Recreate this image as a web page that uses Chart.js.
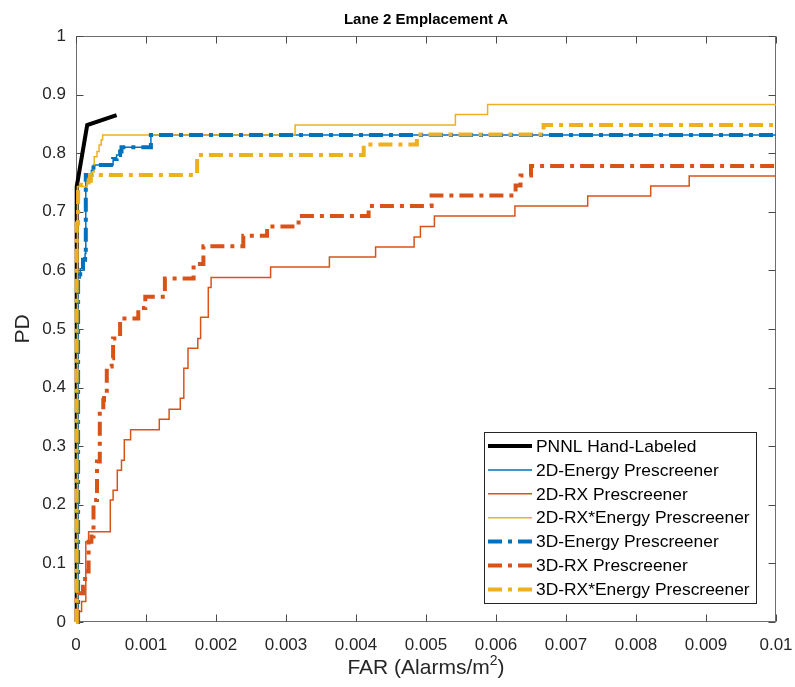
<!DOCTYPE html>
<html>
<head>
<meta charset="utf-8">
<script src="https://cdn.jsdelivr.net/npm/chart.js@4.4.1/dist/chart.umd.min.js"></script>
<style>
  html, body { margin: 0; padding: 0; background: #ffffff; }
  #wrap { width: 795px; height: 687px; }
</style>
</head>
<body>
<div id="wrap"><canvas id="roc" width="795" height="687"></canvas></div>
<script>
// ROC curves for lane 2, emplacement A: probability of detection vs. false alarm rate.
const seriesNames = [
  'PNNL Hand-Labeled',
  '2D-Energy Prescreener',
  '2D-RX Prescreener',
  '2D-RX*Energy Prescreener',
  '3D-Energy Prescreener',
  '3D-RX Prescreener',
  '3D-RX*Energy Prescreener'
];

// PNNL hand-labeled reference (straight segments)
const pnnlFar = [0, 0.00001, 0.00016, 0.00058];
const pnnlPd  = [0, 0.743, 0.848, 0.865];

// 2D energy prescreener
const energy2dFar = [0, 0.00003, 0.00006, 0.0001, 0.00013, 0.00014, 0.00022, 0.00025, 0.00053, 0.00058, 0.00063, 0.00065, 0.00107, 0.01];
const energy2dPd  = [0, 0.587, 0.603, 0.618, 0.629, 0.763, 0.771, 0.780, 0.790, 0.797, 0.803, 0.810, 0.831, 0.831];

// 2D RX prescreener
const rx2dFar = [0, 0.00001, 0.00008, 0.00014, 0.00018, 0.00049, 0.00053, 0.00059, 0.00065, 0.00069, 0.00078, 0.00119, 0.00133, 0.00149, 0.00154, 0.0016, 0.00174, 0.00178, 0.00189, 0.00193, 0.00278, 0.00362, 0.00428, 0.00483, 0.00492, 0.00512, 0.00627, 0.00731, 0.00821, 0.00876, 0.01];
const rx2dPd  = [0, 0.018, 0.035, 0.137, 0.154, 0.208, 0.225, 0.259, 0.276, 0.311, 0.328, 0.346, 0.363, 0.382, 0.433, 0.467, 0.484, 0.520, 0.571, 0.588, 0.606, 0.623, 0.640, 0.657, 0.675, 0.693, 0.710, 0.727, 0.744, 0.761, 0.761];

// 2D RX*Energy prescreener
const rxe2dFar = [0, 0.00002, 0.00016, 0.00023, 0.00026, 0.0003, 0.00033, 0.00036, 0.00038, 0.00313, 0.00542, 0.00588, 0.01];
const rxe2dPd  = [0, 0.743, 0.751, 0.768, 0.794, 0.803, 0.814, 0.823, 0.831, 0.848, 0.866, 0.883, 0.883];

// 3D energy prescreener
const energy3dFar = [0, 0.00003, 0.00006, 0.0001, 0.00013, 0.00014, 0.00022, 0.00025, 0.00053, 0.00058, 0.00063, 0.00065, 0.00107, 0.01];
const energy3dPd  = [0, 0.587, 0.603, 0.618, 0.629, 0.763, 0.771, 0.780, 0.790, 0.797, 0.803, 0.810, 0.831, 0.831];

// 3D RX prescreener
const rx3dFar = [0, 0.00001, 0.00003, 0.0001, 0.00013, 0.00018, 0.00022, 0.00025, 0.0003, 0.00034, 0.00039, 0.0004, 0.00044, 0.00051, 0.00053, 0.0006, 0.00063, 0.00089, 0.00099, 0.00127, 0.00168, 0.00182, 0.00239, 0.00273, 0.00318, 0.00418, 0.00508, 0.00628, 0.00635, 0.0065, 0.01];
const rx3dPd  = [0, 0.038, 0.049, 0.060, 0.086, 0.137, 0.146, 0.208, 0.274, 0.362, 0.379, 0.390, 0.436, 0.450, 0.484, 0.487, 0.518, 0.536, 0.555, 0.586, 0.611, 0.641, 0.659, 0.675, 0.693, 0.710, 0.728, 0.745, 0.762, 0.778, 0.778];

// 3D RX*Energy prescreener
const rxe3dFar = [0, 0.00001, 0.00003, 0.00018, 0.0002, 0.00173, 0.00411, 0.00487, 0.00668, 0.01];
const rxe3dPd  = [0, 0.680, 0.746, 0.754, 0.763, 0.797, 0.815, 0.832, 0.848, 0.848];

const xTicks = [0, 0.001, 0.002, 0.003, 0.004, 0.005, 0.006, 0.007, 0.008, 0.009, 0.01];
const xTickLabels = ['0', '0.001', '0.002', '0.003', '0.004', '0.005', '0.006', '0.007', '0.008', '0.009', '0.01'];
const yTicks = [0, 0.1, 0.2, 0.3, 0.4, 0.5, 0.6, 0.7, 0.8, 0.9, 1];
const yTickLabels = ['0', '0.1', '0.2', '0.3', '0.4', '0.5', '0.6', '0.7', '0.8', '0.9', '1'];

const FONT = '"Liberation Sans", Arial, Helvetica, sans-serif';
const INK = '#262626';
const BLUE = '#0072BD', ORANGE = '#D95319', YELLOW = '#EDB120';
const DASHDOT = [14, 6, 4, 6];

function pts(xs, ys) { return xs.map((x, i) => ({ x: x, y: ys[i] })); }

const styles = [
  { color: '#000000', width: 4, dash: [], stepped: false },
  { color: BLUE, width: 1.5, dash: [], stepped: true },
  { color: ORANGE, width: 1.5, dash: [], stepped: true },
  { color: YELLOW, width: 1.5, dash: [], stepped: true },
  { color: BLUE, width: 4, dash: DASHDOT, stepped: true },
  { color: ORANGE, width: 4, dash: DASHDOT, stepped: true },
  { color: YELLOW, width: 4, dash: DASHDOT, stepped: true }
];
const seriesData = [
  pts(pnnlFar, pnnlPd),
  pts(energy2dFar, energy2dPd),
  pts(rx2dFar, rx2dPd),
  pts(rxe2dFar, rxe2dPd),
  pts(energy3dFar, energy3dPd),
  pts(rx3dFar, rx3dPd),
  pts(rxe3dFar, rxe3dPd)
];

const datasets = seriesNames.map((name, i) => ({
  label: name,
  data: seriesData[i],
  borderColor: styles[i].color,
  backgroundColor: styles[i].color,
  borderWidth: styles[i].width,
  borderDash: styles[i].dash,
  borderCapStyle: 'butt',
  borderJoinStyle: 'miter',
  stepped: styles[i].stepped ? 'before' : false,
  tension: 0,
  pointRadius: 0,
  pointHoverRadius: 0,
  fill: false,
  clip: false,
  order: seriesNames.length - i   // later series paint on top
}));

// Axes box with inward tick marks on all four sides (drawn beneath the curves)
const axesBox = {
  id: 'axesBox',
  beforeDatasetsDraw(chart) {
    const { ctx, chartArea: a, scales } = chart;
    const L = Math.round(a.left) + 0.5, R = Math.round(a.right) - 0.5;
    const T = Math.round(a.top) + 0.5, B = Math.round(a.bottom) - 0.5;
    ctx.save();
    ctx.lineWidth = 1;
    ctx.strokeStyle = '#6e6e6e';
    ctx.strokeRect(L, T, R - L, B - T);
    ctx.strokeStyle = '#4a4a4a';
    ctx.beginPath();
    const tl = 7;
    xTicks.forEach(v => {
      const px = Math.round(scales.x.getPixelForValue(v)) + 0.5;
      ctx.moveTo(px, B); ctx.lineTo(px, B - tl);
      ctx.moveTo(px, T); ctx.lineTo(px, T + tl);
    });
    yTicks.forEach(v => {
      const py = Math.round(scales.y.getPixelForValue(v)) + 0.5;
      ctx.moveTo(L, py); ctx.lineTo(L + tl, py);
      ctx.moveTo(R, py); ctx.lineTo(R - tl, py);
    });
    ctx.stroke();
    ctx.restore();
  }
};

// Title, axis labels and the boxed legend
const annotations = {
  id: 'annotations',
  afterDraw(chart) {
    const { ctx, chartArea: a } = chart;
    const cx = (a.left + a.right) / 2;
    ctx.save();
    // title
    ctx.fillStyle = '#000000';
    ctx.font = 'bold 15px ' + FONT;
    ctx.textAlign = 'center';
    ctx.textBaseline = 'alphabetic';
    ctx.fillText('Lane 2 Emplacement A', cx, 24);

    // y label
    ctx.fillStyle = INK;
    ctx.font = '21px ' + FONT;
    ctx.save();
    ctx.translate(29, (a.top + a.bottom) / 2);
    ctx.rotate(-Math.PI / 2);
    ctx.textAlign = 'center';
    ctx.fillText('PD', 0, 0);
    ctx.restore();

    // x label with superscript
    const main = 'FAR (Alarms/m', sup = '2', tail = ')';
    ctx.font = '21px ' + FONT;
    const wMain = ctx.measureText(main).width;
    const wTail = ctx.measureText(tail).width;
    ctx.font = '14px ' + FONT;
    const wSup = ctx.measureText(sup).width;
    let x0 = cx - (wMain + wSup + wTail) / 2;
    const base = 674;
    ctx.textAlign = 'left';
    ctx.font = '21px ' + FONT;
    ctx.fillText(main, x0, base);
    ctx.font = '14px ' + FONT;
    ctx.fillText(sup, x0 + wMain, base - 9);
    ctx.font = '21px ' + FONT;
    ctx.fillText(tail, x0 + wMain + wSup, base);

    // legend
    const lx = 484.5, ly = 432.5, lw = 272, lh = 171;
    ctx.fillStyle = '#ffffff';
    ctx.fillRect(lx, ly, lw, lh);
    ctx.strokeStyle = INK;
    ctx.lineWidth = 1;
    ctx.setLineDash([]);
    ctx.strokeRect(lx, ly, lw, lh);
    ctx.font = '17.4px ' + FONT;
    ctx.textBaseline = 'middle';
    chart.data.datasets.forEach((ds, i) => {
      const y = 446 + i * 23.9;
      ctx.beginPath();
      ctx.strokeStyle = ds.borderColor;
      ctx.lineWidth = ds.borderWidth;
      ctx.lineCap = 'butt';
      ctx.setLineDash(ds.borderDash || []);
      ctx.moveTo(488, y);
      ctx.lineTo(532, y);
      ctx.stroke();
      ctx.setLineDash([]);
      ctx.fillStyle = '#000000';
      ctx.fillText(ds.label, 536, y + 1);
    });
    ctx.restore();
  }
};

new Chart(document.getElementById('roc'), {
  type: 'line',
  data: { datasets: datasets },
  options: {
    responsive: false,
    animation: false,
    devicePixelRatio: 1,
    layout: { padding: { left: 0, right: 19, top: 36, bottom: 0 } },
    plugins: { legend: { display: false }, tooltip: { enabled: false }, title: { display: false } },
    scales: {
      x: {
        type: 'linear', min: 0, max: 0.01,
        afterBuildTicks: s => { s.ticks = xTicks.map(v => ({ value: v })); },
        afterFit: s => { s.height = 65; s.paddingLeft = 0; s.paddingRight = 0; },
        grid: { display: false, drawTicks: false },
        border: { display: false },
        ticks: {
          callback: (v, i) => xTickLabels[i],
          font: { family: FONT, size: 17 }, color: INK,
          padding: 13, maxRotation: 0, autoSkip: false
        }
      },
      y: {
        type: 'linear', min: 0, max: 1,
        afterBuildTicks: s => { s.ticks = yTicks.map(v => ({ value: v })); },
        afterFit: s => { s.width = 76; s.paddingTop = 0; s.paddingBottom = 0; },
        grid: { display: false, drawTicks: false },
        border: { display: false },
        ticks: {
          callback: (v, i) => yTickLabels[i],
          font: { family: FONT, size: 17 }, color: INK,
          padding: 10, autoSkip: false
        }
      }
    }
  },
  plugins: [axesBox, annotations]
});
</script>
</body>
</html>
